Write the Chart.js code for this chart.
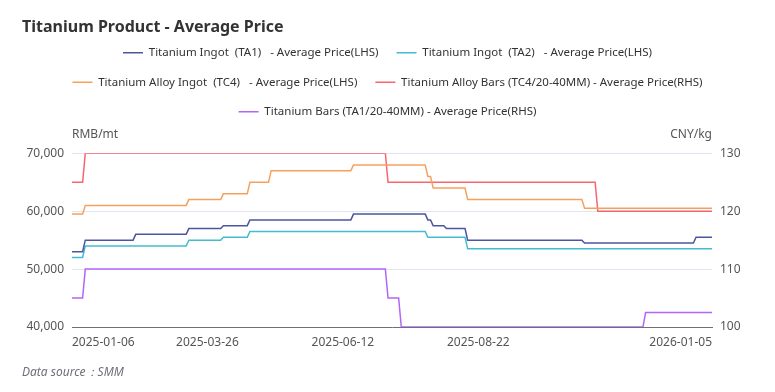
<!DOCTYPE html>
<html>
<head>
<meta charset="utf-8">
<title>Titanium Product - Average Price</title>
<script src="https://cdn.jsdelivr.net/npm/chart.js@4.4.1/dist/chart.umd.min.js"></script>
<style>
  html, body { margin: 0; padding: 0; background: #fff; }
  #wrap { position: relative; width: 775px; height: 392px; }
</style>
</head>
<body>
<div id="wrap"><canvas id="priceChart"></canvas></div>
<script>
// x = trading day counted from 2025-01-06 (day 0) to 2026-01-05 (day 241)
var lastDay = 241;
var tickDays = [0, 51, 102, 153, 241];
var tickLabels = ["2025-01-06", "2025-03-26", "2025-06-12", "2025-08-22", "2026-01-05"];

// each series: the days where the price changes, and the price on those days
var ta1Days   = [0, 4, 5, 23, 24, 43, 44, 56, 57, 66, 67, 105, 106, 133, 134, 135, 136, 140, 141, 148, 149, 192, 193, 234, 235, 241];
var ta1Prices = [53000, 53000, 55000, 55000, 56000, 56000, 57000, 57000, 57500, 57500, 58500, 58500, 59500, 59500, 58500, 58500, 57500, 57500, 57000, 57000, 55000, 55000, 54500, 54500, 55500, 55500];

var ta2Days   = [0, 4, 5, 43, 44, 56, 57, 66, 67, 133, 134, 148, 149, 241];
var ta2Prices = [52000, 52000, 54000, 54000, 55000, 55000, 55500, 55500, 56500, 56500, 55500, 55500, 53500, 53500];

var tc4Days   = [0, 4, 5, 43, 44, 56, 57, 66, 67, 74, 75, 105, 106, 133, 134, 135, 136, 148, 149, 192, 193, 241];
var tc4Prices = [59500, 59500, 61000, 61000, 62000, 62000, 63000, 63000, 65000, 65000, 67000, 67000, 68000, 68000, 66000, 66000, 64000, 64000, 62000, 62000, 60500, 60500];

var tc4BarDays   = [0, 4, 5, 118, 119, 197, 198, 241];
var tc4BarPrices = [125, 125, 130, 130, 125, 125, 120, 120];

var ta1BarDays   = [0, 4, 5, 118, 119, 123, 124, 215, 216, 241];
var ta1BarPrices = [105, 105, 110, 110, 105, 105, 100, 100, 102.5, 102.5];

var seriesNames = [
  "Titanium Ingot  (TA1)   - Average Price(LHS)",
  "Titanium Ingot  (TA2)   - Average Price(LHS)",
  "Titanium Alloy Ingot  (TC4)   - Average Price(LHS)",
  "Titanium Alloy Bars (TC4/20-40MM) - Average Price(RHS)",
  "Titanium Bars (TA1/20-40MM) - Average Price(RHS)"
];
var seriesColors = ["#4c569e", "#44bccf", "#f5a15d", "#f8656f", "#b266f8"];

var chartTitle = "Titanium Product - Average Price";
var sourceNote = "Data source\uff1aSMM";
var fontName = "'Noto Sans', sans-serif";

function points(days, prices) {
  var out = [];
  for (var i = 0; i < days.length; i++) {
    out.push({ x: days[i], y: prices[i] });
  }
  return out;
}

function lineSet(i, data, axis) {
  return {
    label: seriesNames[i],
    data: data,
    yAxisID: axis,
    borderColor: seriesColors[i],
    backgroundColor: seriesColors[i],
    borderWidth: 1.5,
    pointRadius: 0,
    pointHoverRadius: 0,
    tension: 0,
    fill: false
  };
}

// title, unit labels, x labels and the source note
var extraText = {
  id: "extraText",
  afterDraw: function (chart) {
    var ctx = chart.ctx;
    var area = chart.chartArea;
    var xs = chart.scales.x;
    ctx.save();
    ctx.textBaseline = "alphabetic";

    ctx.font = "bold 16px " + fontName;
    ctx.fillStyle = "#333";
    ctx.textAlign = "left";
    ctx.fillText(chartTitle, 22, 32);

    ctx.font = "12px " + fontName;
    ctx.fillStyle = "#555";
    ctx.textAlign = "left";
    ctx.fillText("RMB/mt", area.left, 138);
    ctx.textAlign = "right";
    ctx.fillText("CNY/kg", area.right, 138);

    for (var i = 0; i < tickDays.length; i++) {
      if (i === 0) ctx.textAlign = "left";
      else if (i === tickDays.length - 1) ctx.textAlign = "right";
      else ctx.textAlign = "center";
      ctx.fillText(tickLabels[i], xs.getPixelForValue(tickDays[i]), area.bottom + 19);
    }

    ctx.font = "italic 12px " + fontName;
    ctx.fillStyle = "#6e7079";
    ctx.textAlign = "left";
    ctx.textBaseline = "middle";
    ctx.fillText(sourceNote, 22, 373);
    ctx.restore();
  }
};

Chart.defaults.font.family = fontName;
Chart.defaults.font.size = 12;

var priceChart = new Chart(document.getElementById("priceChart"), {
  type: "line",
  data: {
    datasets: [
      lineSet(0, points(ta1Days, ta1Prices), "y"),
      lineSet(1, points(ta2Days, ta2Prices), "y"),
      lineSet(2, points(tc4Days, tc4Prices), "y"),
      lineSet(3, points(tc4BarDays, tc4BarPrices), "y1"),
      lineSet(4, points(ta1BarDays, ta1BarPrices), "y1")
    ]
  },
  options: {
    responsive: true,
    maintainAspectRatio: false,
    animation: false,
    layout: { padding: { top: 29, left: 0, right: 0, bottom: 0 } },
    plugins: {
      tooltip: { enabled: false },
      title: { display: false },
      subtitle: {
        display: true,
        text: " ",
        weight: 500,
        font: { size: 10, lineHeight: 1.2 },
        padding: { top: 6, bottom: 7.8 }
      },
      legend: {
        position: "top",
        align: "center",
        labels: {
          usePointStyle: true,
          pointStyle: "line",
          pointStyleWidth: 20,
          padding: 18,
          color: "#333",
          font: { size: 11.5 }
        }
      }
    },
    scales: {
      x: {
        type: "linear",
        min: 0,
        max: lastDay,
        grid: { display: false },
        border: { display: true, color: "#6e7079", width: 1 },
        ticks: { display: false },
        afterFit: function (scale) { scale.height = 65; }
      },
      y: {
        position: "left",
        min: 40000,
        max: 70000,
        ticks: { stepSize: 10000, padding: 8, color: "#555" },
        grid: { color: "#e0e6f1", drawTicks: false },
        border: { display: false },
        afterFit: function (scale) { scale.width = 72; }
      },
      y1: {
        position: "right",
        min: 100,
        max: 130,
        ticks: { stepSize: 10, padding: 8, color: "#555" },
        grid: { display: false, drawTicks: false },
        border: { display: false },
        afterFit: function (scale) { scale.width = 63; }
      }
    }
  },
  plugins: [extraText]
});
</script>
</body>
</html>
